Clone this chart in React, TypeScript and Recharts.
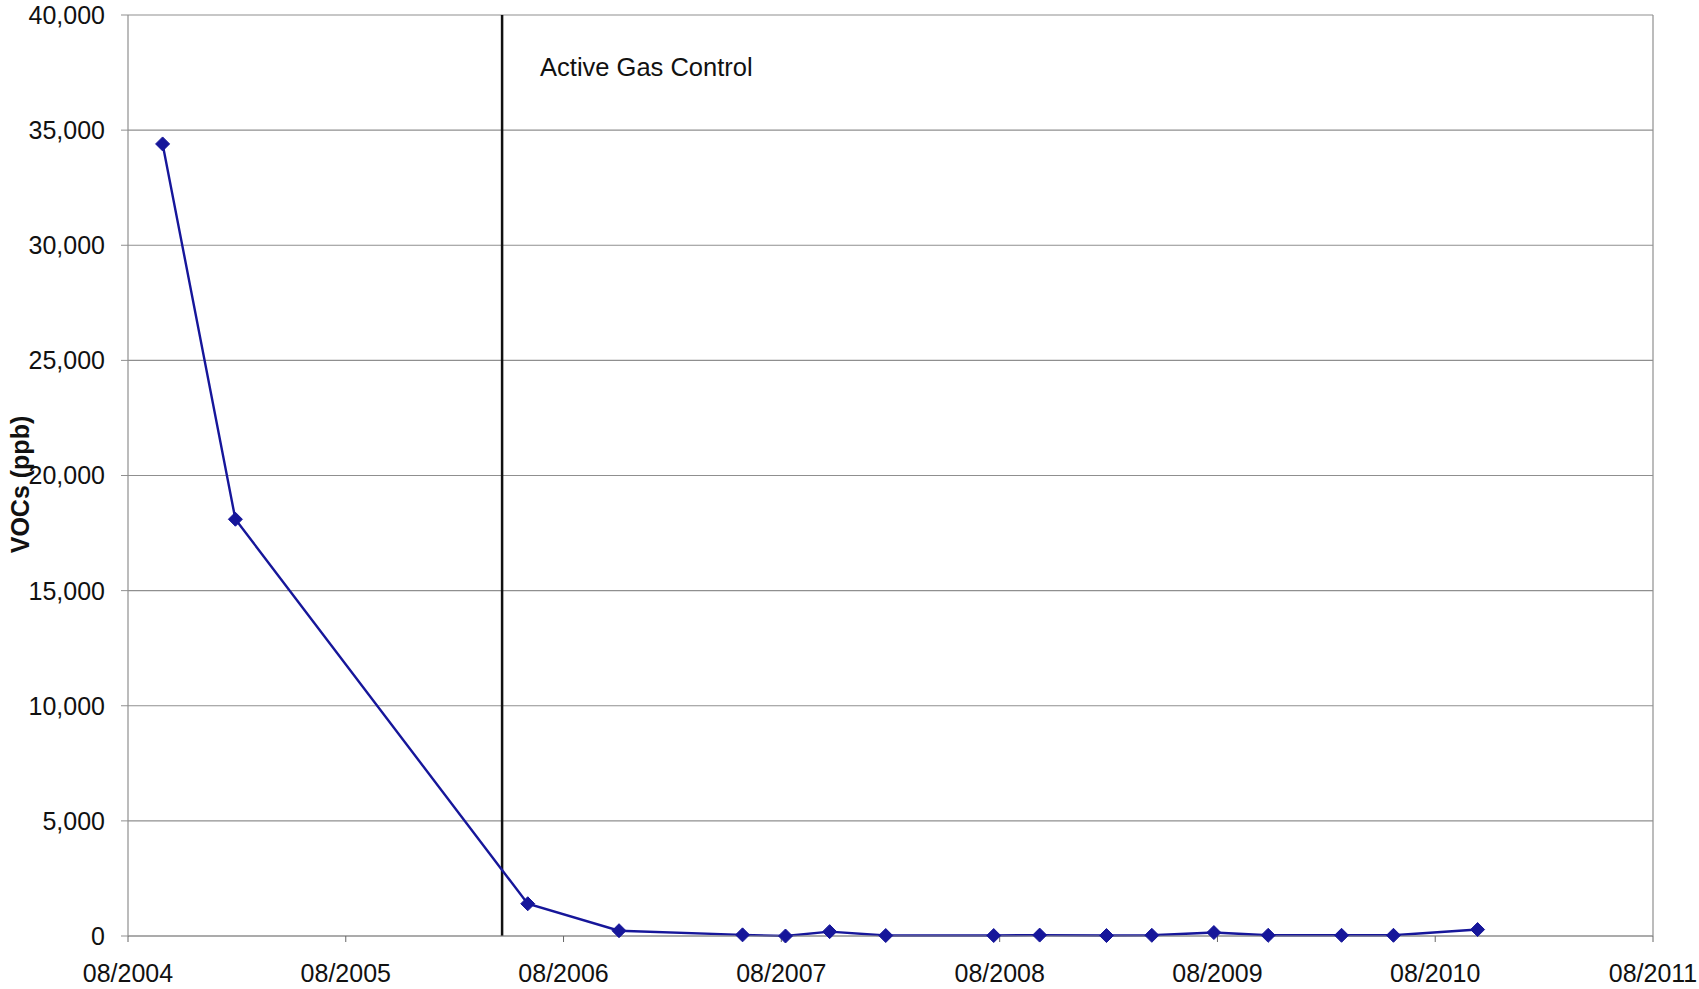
import React from "react";
import {
  LineChart,
  Line,
  XAxis,
  YAxis,
  CartesianGrid,
  ReferenceLine,
} from "recharts";

// sampling dates and VOC readings (ppb)
const sampleDates = [
  "2004-09-28", "2005-01-28", "2006-06-02", "2006-11-02", "2007-05-28",
  "2007-08-08", "2007-10-21", "2008-01-23", "2008-07-22", "2008-10-07",
  "2009-01-27", "2009-04-13", "2009-07-26", "2009-10-25", "2010-02-25",
  "2010-05-23", "2010-10-11",
];
const vocValues = [
  34400, 18100, 1400, 230, 50,
  0, 190, 20, 20, 40,
  20, 30, 150, 30, 30,
  30, 280,
];

const xTickDates = [
  "2004-08-01", "2005-08-01", "2006-08-01", "2007-08-01",
  "2008-08-01", "2009-08-01", "2010-08-01", "2011-08-01",
];
const yTicks = [0, 5000, 10000, 15000, 20000, 25000, 30000, 35000, 40000];
const gasControlDate = "2006-04-20";
const gasControlLabel = "Active Gas Control";
const yAxisTitle = "VOCs (ppb)";

const toTime = (s: string) => new Date(s + "T00:00:00Z").getTime();

const data = sampleDates.map((d, i) => ({ t: toTime(d), voc: vocValues[i] }));
const xTicks = xTickDates.map(toTime);
const xMin = xTicks[0];
const xMax = xTicks[xTicks.length - 1];

const FONT = "'Liberation Sans', Arial, sans-serif";
const GRID = "#8f8f8f";
const LINE = "#16169a";

const fmtDate = (v: number) => {
  const d = new Date(v);
  return `${String(d.getUTCMonth() + 1).padStart(2, "0")}/${d.getUTCFullYear()}`;
};

const Diamond = (props: any) => {
  const { cx, cy } = props;
  if (cx == null || cy == null) return null;
  const r = 7;
  return (
    <path
      d={`M${cx},${cy - r}L${cx + r},${cy}L${cx},${cy + r}L${cx - r},${cy}Z`}
      fill={LINE}
      stroke={LINE}
    />
  );
};

const YTitle = (props: any) => {
  const vb = props.viewBox || {};
  const cx = 20;
  const cy = vb.y + vb.height / 2 + 9;
  return (
    <text
      x={cx}
      y={cy}
      transform={`rotate(-90, ${cx}, ${cy})`}
      textAnchor="middle"
      dominantBaseline="central"
      fontFamily={FONT}
      fontWeight="bold"
      fontSize={25}
      fill="#111"
    >
      {yAxisTitle}
    </text>
  );
};

const GasLabel = (props: any) => {
  const vb = props.viewBox || {};
  return (
    <text
      x={vb.x + 38}
      y={vb.y + 61}
      fontFamily={FONT}
      fontSize={25.5}
      fill="#111"
    >
      {gasControlLabel}
    </text>
  );
};

export default function App() {
  return (
    <div style={{ position: "absolute", left: 0, top: 0, background: "#fff" }}>
      <LineChart
        width={1699}
        height={989}
        data={data}
        margin={{ top: 15, right: 46, left: 0, bottom: 0 }}
      >
        <CartesianGrid vertical={false} stroke={GRID} strokeWidth={1.2} />
        <XAxis
          dataKey="t"
          type="number"
          scale="time"
          domain={[xMin, xMax]}
          ticks={xTicks}
          interval={0}
          tickFormatter={fmtDate}
          height={53}
          tickSize={6}
          tickMargin={22}
          axisLine={{ stroke: GRID, strokeWidth: 1.2 }}
          tickLine={{ stroke: "#666" }}
          tick={{ fill: "#111", fontSize: 25, fontFamily: FONT }}
        />
        <YAxis
          type="number"
          domain={[0, 40000]}
          ticks={yTicks}
          interval={0}
          width={128}
          tickSize={7}
          tickMargin={16}
          tickFormatter={(v: number) => v.toLocaleString("en-US")}
          axisLine={{ stroke: GRID, strokeWidth: 1.2 }}
          tickLine={{ stroke: GRID }}
          tick={{ fill: "#111", fontSize: 25, fontFamily: FONT }}
          label={<YTitle />}
        />
        <ReferenceLine x={xMax} stroke={GRID} strokeWidth={1.2} />
        <ReferenceLine
          x={toTime(gasControlDate)}
          stroke="#111"
          strokeWidth={2.5}
          label={<GasLabel />}
        />
        <Line
          type="linear"
          dataKey="voc"
          stroke={LINE}
          strokeWidth={2.4}
          dot={<Diamond />}
          activeDot={false}
          isAnimationActive={false}
        />
      </LineChart>
    </div>
  );
}
